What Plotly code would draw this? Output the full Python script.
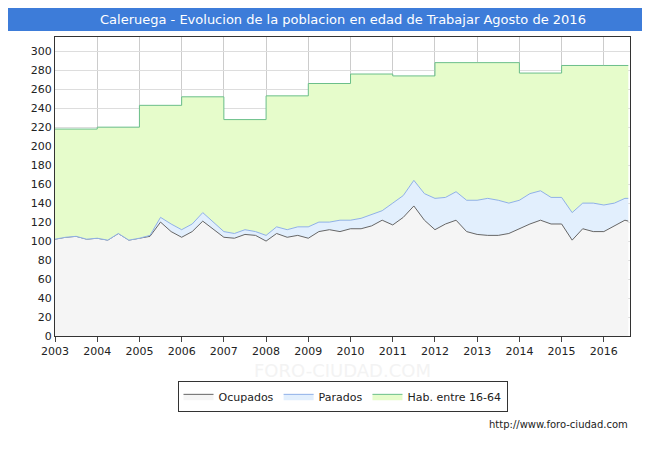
import plotly.graph_objects as go

# quarterly samples, 2003 Q1 .. 2016 Q3 (Aug)
periodo = [2003 + i * 0.25 for i in range(55)] + [2016.58]
ocupados = [102, 104, 105, 102, 103, 101, 108, 101, 103, 105, 120, 110,
            104, 110, 121, 112, 104, 103, 107, 106, 100, 108, 104, 106,
            103, 110, 112, 110, 113, 113, 116, 122, 117, 125, 137, 122,
            112, 118, 122, 110, 107, 106, 106, 108, 113, 118, 122, 118,
            118, 101, 113, 110, 110, 116, 122, 121]
parados = [0, 0, 0, 0, 0, 0, 0, 0, 0, 1, 5, 8,
           8, 8, 9, 8, 6, 5, 5, 4, 6, 7, 8, 9,
           12, 10, 8, 12, 9, 11, 12, 10, 23, 23, 27, 28,
           33, 28, 30, 33, 36, 39, 37, 32, 30, 32, 31, 28,
           28, 29, 27, 30, 28, 24, 23, 24]
anios = list(range(2003, 2017)) + [2016.58]
hab = [218, 220, 243, 252, 228, 253, 266, 276, 274, 288, 288, 277, 285, 285, 285]

total = [o + p for o, p in zip(ocupados, parados)]

fig = go.Figure()
fig.add_trace(go.Scatter(x=periodo, y=ocupados, name="Ocupados", mode="lines",
                         line=dict(color="#666666", width=1), fill="tozeroy",
                         fillcolor="#f5f5f5"))
fig.add_trace(go.Scatter(x=periodo, y=total, name="Parados", mode="lines",
                         line=dict(color="#8fb0e8", width=1), fill="tonexty",
                         fillcolor="#e2effd"))
fig.add_trace(go.Scatter(x=anios, y=hab, name="Hab. entre 16-64", mode="lines",
                         line=dict(color="#6bbf8a", width=1, shape="hv"),
                         fill="tonexty", fillcolor="#e6fccb"))

fig.update_layout(
    width=650, height=450, margin=dict(l=47, r=28, t=29, b=122),
    paper_bgcolor="white", plot_bgcolor="white",
    font=dict(family="DejaVu Sans", size=11, color="#222"),
    showlegend=True,
    legend=dict(orientation="h", x=0.5, xanchor="center", y=-0.15, yanchor="top",
                traceorder="normal",
                bordercolor="#333", borderwidth=1, bgcolor="white",
                font=dict(size=11)),
    shapes=[dict(type="rect", xref="paper", yref="paper", x0=-0.1, x1=1.06,
                 y0=1.02, y1=1.2, fillcolor="#3d7cd9", line=dict(width=0),
                 layer="below")],
    annotations=[
        dict(text="Caleruega - Evolucion de la poblacion en edad de Trabajar Agosto de 2016",
             xref="paper", yref="paper", x=0.5, y=1.06, yanchor="middle",
             showarrow=False, font=dict(color="white", size=13)),
        dict(text="FORO-CIUDAD.COM", xref="paper", yref="paper", x=0.5, y=-0.075,
             yanchor="top", showarrow=False, font=dict(color="#f3f3f3", size=18)),
        dict(text="http://www.foro-ciudad.com", xref="paper", yref="paper",
             x=1.0, y=-0.32, xanchor="right", showarrow=False,
             font=dict(size=10, color="#222")),
    ],
)
fig.update_xaxes(range=[2003, 2016.62], tickvals=list(range(2003, 2017)),
                 showgrid=True, gridcolor="#cccccc", ticks="outside",
                 showline=True, linecolor="#333", mirror=True, zeroline=False)
fig.update_yaxes(range=[0, 315], dtick=20, showgrid=True, gridcolor="#dddddd",
                 showline=True, linecolor="#333", mirror=True, zeroline=False)

fig.write_html("out.html")
